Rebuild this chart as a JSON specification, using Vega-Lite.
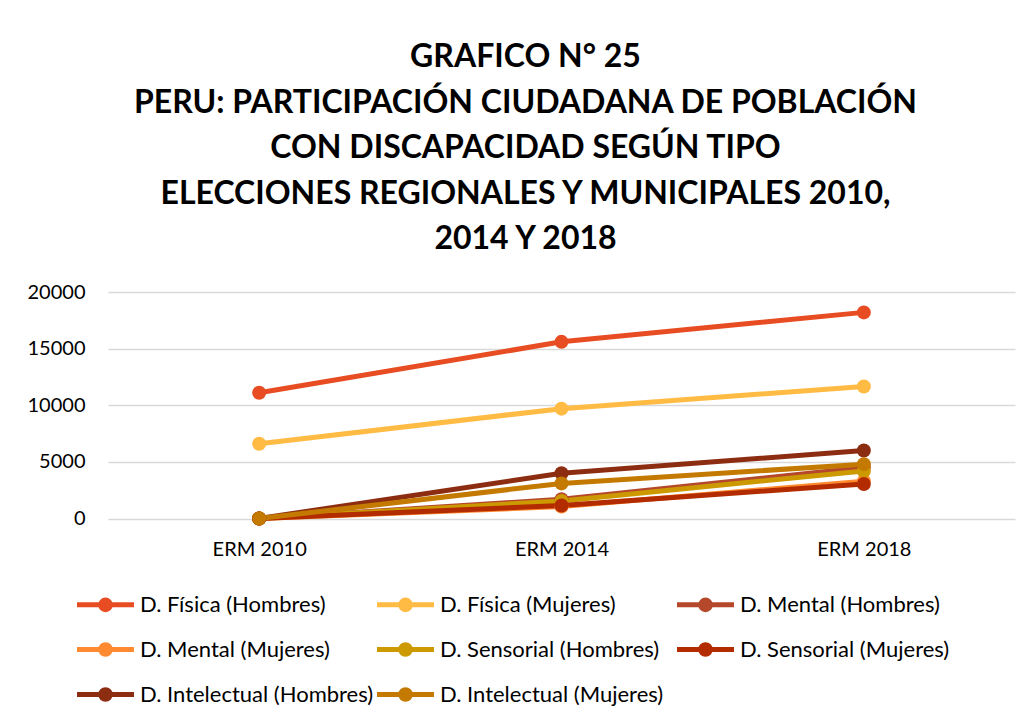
{
  "$schema": "https://vega.github.io/schema/vega-lite/v6.json",
  "width": 907,
  "height": 226.5,
  "autosize": "none",
  "padding": {"left": 108, "top": 292, "right": 13, "bottom": 201.5},
  "background": "white",
  "config": {
    "font": "Lato",
    "view": {"stroke": null}
  },
  "title": {
    "text": ["GRAFICO N° 25", "PERU: PARTICIPACIÓN CIUDADANA DE POBLACIÓN", "CON DISCAPACIDAD SEGÚN TIPO", "ELECCIONES REGIONALES Y MUNICIPALES 2010,", "2014 Y 2018"],
    "font": "Lato",
    "fontSize": 32,
    "fontWeight": "bold",
    "lineHeight": 45.5,
    "anchor": "middle",
    "color": "#000000",
    "offset": 26,
    "dx": -36
  },
  "data": {
    "values": [
      {"eleccion": "ERM 2010", "serie": "D. Física (Hombres)", "valor": 11100},
      {"eleccion": "ERM 2014", "serie": "D. Física (Hombres)", "valor": 15600},
      {"eleccion": "ERM 2018", "serie": "D. Física (Hombres)", "valor": 18200},
      {"eleccion": "ERM 2010", "serie": "D. Física (Mujeres)", "valor": 6600},
      {"eleccion": "ERM 2014", "serie": "D. Física (Mujeres)", "valor": 9700},
      {"eleccion": "ERM 2018", "serie": "D. Física (Mujeres)", "valor": 11650},
      {"eleccion": "ERM 2010", "serie": "D. Mental (Hombres)", "valor": 0},
      {"eleccion": "ERM 2014", "serie": "D. Mental (Hombres)", "valor": 1700},
      {"eleccion": "ERM 2018", "serie": "D. Mental (Hombres)", "valor": 4500},
      {"eleccion": "ERM 2010", "serie": "D. Mental (Mujeres)", "valor": 0},
      {"eleccion": "ERM 2014", "serie": "D. Mental (Mujeres)", "valor": 1050},
      {"eleccion": "ERM 2018", "serie": "D. Mental (Mujeres)", "valor": 3300},
      {"eleccion": "ERM 2010", "serie": "D. Sensorial (Hombres)", "valor": 0},
      {"eleccion": "ERM 2014", "serie": "D. Sensorial (Hombres)", "valor": 1550},
      {"eleccion": "ERM 2018", "serie": "D. Sensorial (Hombres)", "valor": 4200},
      {"eleccion": "ERM 2010", "serie": "D. Sensorial (Mujeres)", "valor": 0},
      {"eleccion": "ERM 2014", "serie": "D. Sensorial (Mujeres)", "valor": 1150},
      {"eleccion": "ERM 2018", "serie": "D. Sensorial (Mujeres)", "valor": 3050},
      {"eleccion": "ERM 2010", "serie": "D. Intelectual (Hombres)", "valor": 0},
      {"eleccion": "ERM 2014", "serie": "D. Intelectual (Hombres)", "valor": 4000},
      {"eleccion": "ERM 2018", "serie": "D. Intelectual (Hombres)", "valor": 6000},
      {"eleccion": "ERM 2010", "serie": "D. Intelectual (Mujeres)", "valor": 0},
      {"eleccion": "ERM 2014", "serie": "D. Intelectual (Mujeres)", "valor": 3100},
      {"eleccion": "ERM 2018", "serie": "D. Intelectual (Mujeres)", "valor": 4800}
    ]
  },
  "mark": {"type": "line", "strokeWidth": 5, "point": {"filled": true, "size": 196, "opacity": 1}},
  "encoding": {
    "x": {
      "field": "eleccion",
      "type": "nominal",
      "sort": ["ERM 2010", "ERM 2014", "ERM 2018"],
      "scale": {"paddingInner": 0, "paddingOuter": 0.5},
      "axis": {
        "title": null,
        "labelAngle": 0,
        "labelFont": "Lato",
        "labelFontSize": 20,
        "labelColor": "#000000",
        "labelPadding": 21,
        "ticks": false,
        "domain": false,
        "grid": false
      }
    },
    "y": {
      "field": "valor",
      "type": "quantitative",
      "scale": {"domain": [0, 20000]},
      "axis": {
        "title": null,
        "values": [0, 5000, 10000, 15000, 20000],
        "format": "d",
        "labelFont": "Lato",
        "labelFontSize": 20,
        "labelColor": "#000000",
        "labelPadding": 23,
        "ticks": false,
        "domain": false,
        "gridColor": "#D9D9D9",
        "gridWidth": 1.5
      }
    },
    "color": {
      "field": "serie",
      "type": "nominal",
      "sort": ["D. Física (Hombres)", "D. Física (Mujeres)", "D. Mental (Hombres)", "D. Mental (Mujeres)", "D. Sensorial (Hombres)", "D. Sensorial (Mujeres)", "D. Intelectual (Hombres)", "D. Intelectual (Mujeres)"],
      "scale": {
        "domain": ["D. Física (Hombres)", "D. Física (Mujeres)", "D. Mental (Hombres)", "D. Mental (Mujeres)", "D. Sensorial (Hombres)", "D. Sensorial (Mujeres)", "D. Intelectual (Hombres)", "D. Intelectual (Mujeres)"],
        "range": ["#E84C22", "#FFBB44", "#B5482A", "#FF8A30", "#CC9A00", "#B32C00", "#8C2D12", "#C47A00"]
      },
      "legend": {
        "title": null,
        "orient": "none",
        "legendX": -25,
        "legendY": 290,
        "direction": "horizontal",
        "columns": 3,
        "gridAlign": "all",
        "columnPadding": -7,
        "rowPadding": 7,
        "symbolType": "M-1.425,0H1.425M0.24,0A0.24,0.24 0 1,1 -0.24,0A0.24,0.24 0 1,1 0.24,0Z",
        "symbolSize": 1600,
        "symbolStrokeWidth": 5,
        "labelFont": "Lato",
        "labelFontSize": 22,
        "labelColor": "#000000",
        "labelOffset": 12,
        "labelLimit": 400,
        "encode": {
          "symbols": {"update": {"fill": {"scale": "color", "field": "value"}, "fillOpacity": {"value": 1}, "opacity": {"value": 1}}}
        }
      }
    }
  }
}
